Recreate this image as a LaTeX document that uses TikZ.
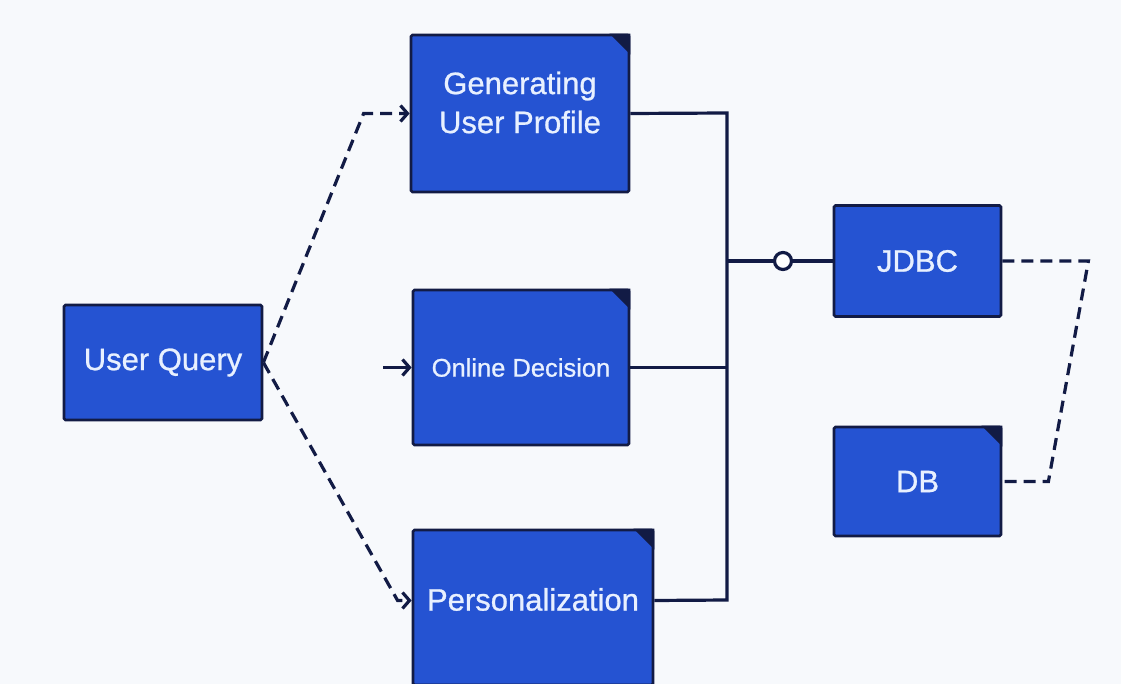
\documentclass[tikz,border=0pt]{standalone}
\usepackage{fontspec}
\newfontfamily\boxfont{Liberation Sans}[FakeBold=0.8]
\usetikzlibrary{arrows.meta,calc,positioning}
\definecolor{bg}{HTML}{F7F9FC}
\definecolor{boxblue}{HTML}{2553D2}
\definecolor{navy}{HTML}{121B45}
\definecolor{txt}{HTML}{E8F0FF}

\begin{document}
\begin{tikzpicture}[x=1pt,y=-1pt,>={Straight Barb[length=7pt,width=16pt]},
  box/.style={draw=navy,line width=2.8pt,fill=boxblue,rounded corners=1.5pt,text=txt,font=\boxfont\fontsize{31}{39}\selectfont,align=center,inner sep=0pt},
  lbl/.style={text=txt,font=\boxfont\fontsize{31}{39}\selectfont,align=center,inner sep=0pt},
  link/.style={navy,line width=3.2pt},
  dlink/.style={link,dash pattern=on 12pt off 7pt},
  joint/.style={circle,draw=navy,line width=3.2pt,fill=white,minimum size=17pt,inner sep=0pt}]
\useasboundingbox (0,0) rectangle (1121,684);
\clip (0,0) rectangle (1121,684);
\fill[bg] (0,0) rectangle (1121,684);
% boxes
\node[box,minimum width=198,minimum height=115] (uq) at (163,362.5) {User Query};
\node[box,minimum width=218,minimum height=157] (gup) at (520,113.5) {};
\node[box,minimum width=216,minimum height=155,font=\boxfont\fontsize{25.5}{30}\selectfont] (od) at (521,367.5) {Online Decision};
\node[box,minimum width=240,minimum height=155] (pers) at (533,607.5) {};
\node[box,minimum width=167,minimum height=111] (jdbc) at (917.5,261) {JDBC};
\node[box,minimum width=167,minimum height=109] (db) at (917.5,481.5) {DB};
\node[lbl] (guptxt) at ([yshift=11pt]gup.center) {Generating\\User Profile};
\node[lbl] (perstxt) at ([yshift=8pt]pers.center) {Personalization};
\foreach \n in {gup,od,pers,db}{\fill[navy] (\n.north east) -- ++(-21,0) -- ++(21,21) -- cycle;}
% connectors
\coordinate (odin) at (383,367.5);
\coordinate (bt) at (727,113);
\coordinate (bb) at (727,600);
\draw[dlink,->] (uq.east) -- ([xshift=-46pt]gup.west) -- (gup.west);
\draw[dlink,->] (uq.east) -- ([xshift=-14pt,yshift=7pt]pers.west) -- ([yshift=7pt]pers.west);
\draw[link,->] (odin) -- (od.west);
\draw[link] (gup.east) -- (bt) -- (bb) -- ([yshift=7pt]pers.east);
\draw[link] (od.east) -- (od.east -| bt);
\node[joint] (jo) at (783,261) {};
\draw[link] (jo -| bt) -- (jo) -- (jdbc.west);
\draw[dlink] (jdbc.east) -- ([xshift=86pt]jdbc.east) -- ([xshift=46pt]db.east) -- (db.east);
\end{tikzpicture}
\end{document}
